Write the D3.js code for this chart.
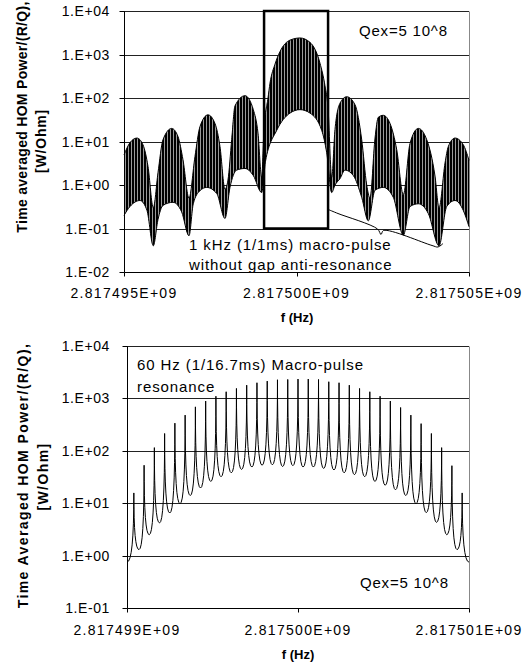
<!DOCTYPE html>
<html>
<head>
<meta charset="utf-8">
<script src="https://cdn.jsdelivr.net/npm/d3@7"></script>
<style>
body { margin: 0; background: #fff; }
svg text { font-family: "Liberation Sans", Arial, sans-serif; fill: #000; }
</style>
</head>
<body>
<svg id="chart" width="530" height="667"></svg>
<script>
// ---- top chart: 1 kHz macro-pulse (offsets in Hz from the centre frequency)
var topCenter = 2.8175e9;
var topXTicks = [2.817495e9, 2.8175e9, 2.817505e9];
var topYTicks = [1e-2, 1e-1, 1e0, 1e1, 1e2, 1e3, 1e4];

var topUpperHz = [-5000, -4827, -4624, -4450, -4305, -4151, -4015, -3870, -3618, -3435, -3290, -3116,
    -2943, -2798, -2566, -2363, -2218, -2073, -1986, -1879, -1783, -1493, -1252, -1116, -1009,
    -942, -826, -768, -623, -478, -188, 101, 391, 681, 826, 913, 1020,
    1116, 1261, 1455, 1696, 1890, 2035, 2130, 2276, 2371, 2516, 2711, 2905, 3096,
    3290, 3531, 3775, 4015, 4131, 4305, 4401, 4595, 4835, 5000];
var topUpperVal = [4.9, 9.4, 12, 8.4, 2.7, 0.3, 1.9, 11, 20, 13, 3.8, 0.5,
    4.5, 22, 41, 26, 7.7, 0.8, 1.3, 11, 66, 113, 54, 15.6, 1.5,
    20, 100, 220, 600, 1170, 2140, 2400, 1900, 630, 190, 60, 1.5,
    19, 76, 107, 70, 11, 1.0, 0.5, 12, 36, 40, 26, 6.5, 0.6,
    9, 20, 11, 1.6, 0.3, 3.2, 7.7, 12, 8.4, 3.7];

var topLowerHz = [-5000, -4827, -4537, -4334, -4151, -4015, -3870, -3580, -3328, -3116,
    -2992, -2798, -2603, -2313, -2073, -1928, -1734, -1493, -1252, -1009,
    -899, -574, -188, 101, 391, 731, 875, 1020,
    1116, 1261, 1406, 1647, 1890, 2081, 2276, 2516, 2806, 3096,
    3290, 3531, 3821, 4131, 4354, 4595, 4835, 5000];
var topLowerVal = [0.2, 0.32, 0.44, 0.26, 0.04, 0.16, 0.34, 0.4, 0.24, 0.068,
    0.37, 0.74, 0.88, 0.64, 0.17, 0.88, 2.2, 2.4, 1.65, 0.67,
    3.5, 18, 45, 54, 45, 18, 5.5, 0.67,
    1.0, 1.4, 2.2, 1.65, 0.52, 0.15, 0.76, 0.88, 0.52, 0.07,
    0.32, 0.37, 0.22, 0.04, 0.32, 0.44, 0.26, 0.11];

var topBoxHz = [-940, 915];
var topBoxVal = [1e-1, 1e4];
var braceHz = [922, 1203, 2348, 2450, 2522, 3928, 4102, 4247];
var braceVal = [0.273, 0.221, 0.0975, 0.0728, 0.09, 0.0407, 0.0376, 0.0452];

// ---- bottom chart: 60 Hz macro-pulse comb
var botCenter = 2.8175e9;
var botXTicks = [2.817499e9, 2.8175e9, 2.817501e9];
var botYTicks = [1e-1, 1e0, 1e1, 1e2, 1e3, 1e4];

var botPeakHz = [-960, -900, -840, -780, -720, -660, -600, -540, -480, -420, -360, -300, -240, -180, -120, -60,
    0, 60, 120, 180, 240, 300, 360, 420, 480, 540, 600, 660, 720, 780, 840, 900, 960];
var botPeakVal = [15.7, 53, 115, 214, 337, 480, 690, 890, 1100, 1340, 1550, 1790, 1990, 2140, 2270, 2300,
    2340, 2340, 2300, 2080, 1990, 1790, 1550, 1340, 1100, 890, 670, 480, 330, 214, 115, 52, 15.7];
var botTroughHz = [-1000, -930, -870, -810, -750, -690, -630, -570, -510, -450, -390, -330, -270, -210, -150, -90, -30,
    30, 90, 150, 210, 270, 330, 390, 450, 510, 570, 630, 690, 750, 810, 870, 930, 1000];
var botTroughVal = [0.75, 1.3, 2.5, 4.2, 6.5, 9.8, 14, 19.5, 26, 32, 38, 44, 49, 53, 54, 50, 52,
    49, 49, 46, 43, 38, 35, 32, 26, 22, 18, 14, 9.8, 6.6, 4.3, 2.5, 1.3, 0.75];

var svg = d3.select("#chart");

function yLabel(v) {
    var e = Math.round(Math.log10(v));
    return "1.E" + (e < 0 ? "-" : "+") + String(Math.abs(e)).padStart(2, "0");
}
function xLabel(v) {
    return (v / 1e9).toFixed(6) + "E+09";
}
function crisp(v) { return Math.round(v) + 0.5; }

// draws gridlines, axes and tick labels of one panel
function drawFrame(x, y, xTicks, yTicks, xLabelY) {
    var g = svg.append("g");
    var x0 = x.range()[0], x1 = x.range()[1];
    var yb = y.range()[0], yt = y.range()[1];

    g.selectAll("line.grid").data(yTicks.slice(1)).enter().append("line")
        .attr("x1", x0).attr("x2", x1)
        .attr("y1", function(d) { return crisp(y(d)); })
        .attr("y2", function(d) { return crisp(y(d)); })
        .attr("stroke", "#222").attr("stroke-width", 1);

    // right border
    g.append("line").attr("x1", crisp(x1)).attr("x2", crisp(x1)).attr("y1", crisp(yt)).attr("y2", crisp(yb))
        .attr("stroke", "#888").attr("stroke-width", 1);

    // left axis with outside ticks
    g.append("line").attr("x1", crisp(x0)).attr("x2", crisp(x0)).attr("y1", crisp(yt)).attr("y2", crisp(yb))
        .attr("stroke", "#000");
    g.selectAll("line.yt").data(yTicks).enter().append("line")
        .attr("x1", crisp(x0) - 5).attr("x2", crisp(x0))
        .attr("y1", function(d) { return crisp(y(d)); })
        .attr("y2", function(d) { return crisp(y(d)); })
        .attr("stroke", "#000");
    g.selectAll("text.yl").data(yTicks).enter().append("text")
        .attr("x", 110).attr("y", function(d) { return y(d) + 5; })
        .attr("text-anchor", "end").attr("font-size", 14).style("letter-spacing", "0.6px")
        .text(yLabel);

    // bottom axis
    g.append("line").attr("x1", crisp(x0)).attr("x2", crisp(x1)).attr("y1", crisp(yb)).attr("y2", crisp(yb))
        .attr("stroke", "#000");
    g.selectAll("line.xt").data(xTicks).enter().append("line")
        .attr("x1", function(d) { return crisp(x(d)); })
        .attr("x2", function(d) { return crisp(x(d)); })
        .attr("y1", crisp(yb)).attr("y2", crisp(yb) + 4)
        .attr("stroke", "#000");
    g.selectAll("text.xl").data(xTicks).enter().append("text")
        .attr("x", function(d) { return x(d); }).attr("y", xLabelY)
        .attr("text-anchor", "middle").attr("font-size", 14).style("letter-spacing", "1.3px")
        .text(xLabel);
    return g;
}

function addText(x, y, str, size, opts) {
    opts = opts || {};
    var t = svg.append("text").attr("x", x).attr("y", y).attr("font-size", size).text(str);
    if (opts.anchor) t.attr("text-anchor", opts.anchor);
    if (opts.bold) t.attr("font-weight", "bold");
    if (opts.ls) t.style("letter-spacing", opts.ls + "px");
    if (opts.rotate) t.attr("transform", "rotate(-90," + x + "," + y + ")");
    return t;
}

// ================= top chart =================
var xT = d3.scaleLinear().domain([2.817495e9, 2.817505e9]).range([124, 469]);
var yT = d3.scaleLog().domain([1e-2, 1e4]).range([272, 11]);

drawFrame(xT, yT, topXTicks, topYTicks, 298);

// the fast ripple is shown as a dense hatch between its two envelopes
var defs = svg.append("defs");
var hatch = defs.append("pattern").attr("id", "hatch").attr("patternUnits", "userSpaceOnUse")
    .attr("width", 3).attr("height", 8);
hatch.append("rect").attr("width", 3).attr("height", 8).attr("fill", "#9a9a9a");
hatch.append("rect").attr("width", 2).attr("height", 8).attr("fill", "#000");

var upperPts = topUpperHz.map(function(h, i) { return [topCenter + h, topUpperVal[i]]; });
var lowerPts = topLowerHz.map(function(h, i) { return [topCenter + h, topLowerVal[i]]; });

var below = d3.area()
    .x(function(d) { return xT(d[0]); })
    .y0(yT.range()[0] + 5)
    .y1(function(d) { return yT(d[1]); })
    .curve(d3.curveMonotoneX);
var env = d3.line()
    .x(function(d) { return xT(d[0]); })
    .y(function(d) { return yT(d[1]); })
    .curve(d3.curveMonotoneX);

var mask = defs.append("mask").attr("id", "band").attr("maskUnits", "userSpaceOnUse")
    .attr("x", 0).attr("y", 0).attr("width", 530).attr("height", 667);
mask.append("path").attr("d", below(upperPts)).attr("fill", "#fff");
mask.append("path").attr("d", below(lowerPts)).attr("fill", "#000");

svg.append("rect")
    .attr("x", xT.range()[0]).attr("y", yT.range()[1])
    .attr("width", xT.range()[1] - xT.range()[0]).attr("height", yT.range()[0] - yT.range()[1])
    .attr("fill", "url(#hatch)").attr("mask", "url(#band)");
svg.append("path").attr("d", env(upperPts)).attr("fill", "none").attr("stroke", "#000").attr("stroke-width", 1);
svg.append("path").attr("d", env(lowerPts)).attr("fill", "none").attr("stroke", "#000").attr("stroke-width", 1);

// highlight box around the main lobe
svg.append("rect")
    .attr("x", xT(topCenter + topBoxHz[0])).attr("y", yT(topBoxVal[1]))
    .attr("width", xT(topCenter + topBoxHz[1]) - xT(topCenter + topBoxHz[0]))
    .attr("height", yT(topBoxVal[0]) - yT(topBoxVal[1]))
    .attr("fill", "none").attr("stroke", "#000").attr("stroke-width", 2.5);

// brace pointing at the anti-resonance dips
var bracePts = braceHz.map(function(h, i) { return [topCenter + h, braceVal[i]]; });
svg.append("path")
    .attr("d", d3.line().x(function(d) { return xT(d[0]); }).y(function(d) { return yT(d[1]); })
        .curve(d3.curveCatmullRom)(bracePts))
    .attr("fill", "none").attr("stroke", "#000").attr("stroke-width", 1);

addText(359, 36, "Qex=5 10^8", 15, { ls: 0.8 });
addText(189, 250, "1 kHz (1/1ms) macro-pulse", 15, { ls: 0.9 });
addText(189, 270, "without gap anti-resonance", 15, { ls: 0.9 });
addText(297, 322, "f (Hz)", 13, { anchor: "middle", bold: true });
addText(26.5, 117, "Time averaged HOM Power/(R/Q),", 14, { anchor: "middle", bold: true, ls: 0.3, rotate: true });
addText(45.5, 141, "[W/Ohm]", 14, { anchor: "middle", bold: true, ls: 0.8, rotate: true });

// ================= bottom chart =================
var xB = d3.scaleLinear().domain([2.817499e9, 2.817501e9]).range([127, 469]);
var yB = d3.scaleLog().domain([1e-1, 1e4]).range([608, 346]);

drawFrame(xB, yB, botXTicks, botYTicks, 635);

// each 60 Hz line: flat-bottomed valley rising to a sharp resonance tip
var comb = d3.path();
comb.moveTo(xB(botCenter + botTroughHz[0]), yB(botTroughVal[0]));
botPeakHz.forEach(function(h, i) {
    var xp = xB(botCenter + h), yp = yB(botPeakVal[i]);
    var yPrev = yB(botTroughVal[i]);
    var xNext = xB(botCenter + botTroughHz[i + 1]), yNext = yB(botTroughVal[i + 1]);
    comb.quadraticCurveTo(xp, yPrev, xp, yp);
    comb.quadraticCurveTo(xp, yNext, xNext, yNext);
});
svg.append("path").attr("d", comb.toString())
    .attr("fill", "none").attr("stroke", "#000").attr("stroke-width", 1);

addText(137, 370, "60 Hz (1/16.7ms) Macro-pulse", 15, { ls: 0.9 });
addText(137, 392, "resonance", 15, { ls: 0.9 });
addText(360, 588, "Qex=5 10^8", 15, { ls: 0.8 });
addText(298, 659, "f (Hz)", 13, { anchor: "middle", bold: true });
addText(28, 475.5, "Time Averaged HOM Power/(R/Q),", 14, { anchor: "middle", bold: true, ls: 1.4, rotate: true });
addText(48, 476.5, "[W/Ohm]", 14, { anchor: "middle", bold: true, ls: 1.4, rotate: true });
</script>
</body>
</html>
